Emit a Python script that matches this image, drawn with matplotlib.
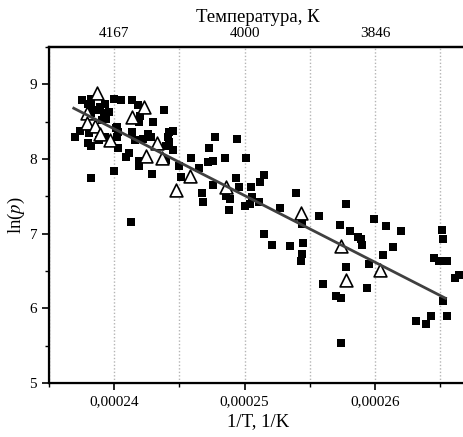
import numpy as np
import matplotlib
matplotlib.use("Agg")
import matplotlib.pyplot as plt
from matplotlib.ticker import MultipleLocator, FuncFormatter

plt.rcParams['font.family'] = ['Liberation Serif', 'DejaVu Serif']
plt.rcParams['mathtext.fontset'] = 'stix'

# measured points (black squares)
sq_x = [0.0002375, 0.0002382, 0.0002382, 0.0002393, 0.0002400, 0.0002405, 0.0002414, 0.0002418,
        0.0002438, 0.0002382, 0.0002388, 0.0002392, 0.0002396, 0.0002394, 0.0002391, 0.0002420,
        0.0002419, 0.0002430, 0.0002374, 0.0002370, 0.0002381, 0.0002380, 0.0002382, 0.0002388,
        0.0002393, 0.0002402, 0.0002403, 0.0002403, 0.0002414, 0.0002416, 0.0002422, 0.0002426,
        0.0002428, 0.0002411, 0.0002409, 0.0002419, 0.0002419, 0.0002429, 0.0002441, 0.0002442,
        0.0002445, 0.0002442, 0.0002440, 0.0002445, 0.0002440, 0.0002400, 0.0002382, 0.0002413,
        0.0002459, 0.0002450, 0.0002451, 0.0002465, 0.0002472, 0.0002476, 0.0002473, 0.0002477,
        0.0002485, 0.0002494, 0.0002501, 0.0002493, 0.0002476, 0.0002467, 0.0002468, 0.0002486,
        0.0002489, 0.0002488, 0.0002496, 0.0002500, 0.0002505, 0.0002506, 0.0002512, 0.0002515,
        0.0002511, 0.0002539, 0.0002527, 0.0002557, 0.0002578, 0.0002544, 0.0002515, 0.0002521,
        0.0002535, 0.0002545, 0.0002544, 0.0002543, 0.0002573, 0.0002581, 0.0002587, 0.0002589,
        0.0002590, 0.0002599, 0.0002608, 0.0002620, 0.0002614, 0.0002606, 0.0002595, 0.0002578,
        0.0002560, 0.0002570, 0.0002574, 0.0002594, 0.0002574, 0.0002651, 0.0002652, 0.0002645,
        0.0002649, 0.0002655, 0.0002661, 0.0002664, 0.0002652, 0.0002631, 0.0002639, 0.0002643,
        0.0002655, 0.0002504, 0.0002380, 0.0002383, 0.0002389, 0.0002401, 0.0002402]
sq_y = [8.79, 8.80, 8.72, 8.74, 8.80, 8.79, 8.79, 8.73,
        8.65, 8.61, 8.66, 8.61, 8.63, 8.54, 8.52, 8.58,
        8.50, 8.50, 8.38, 8.29, 8.35, 8.21, 8.17, 8.25,
        8.30, 8.43, 8.36, 8.15, 8.36, 8.25, 8.27, 8.34,
        8.29, 8.08, 8.03, 7.98, 7.90, 7.80, 8.29, 8.36,
        8.37, 8.23, 8.17, 8.12, 7.99, 7.84, 7.75, 7.15,
        8.01, 7.90, 7.76, 7.88, 7.96, 7.98, 8.15, 8.29,
        8.02, 8.27, 8.01, 7.75, 7.65, 7.54, 7.42, 7.51,
        7.47, 7.32, 7.62, 7.37, 7.62, 7.49, 7.69, 7.78,
        7.42, 7.55, 7.34, 7.23, 7.40, 7.13, 6.99, 6.85,
        6.84, 6.87, 6.73, 6.64, 7.11, 7.03, 6.96, 6.93,
        6.85, 7.19, 7.10, 7.04, 6.82, 6.72, 6.60, 6.56,
        6.32, 6.17, 6.14, 6.27, 5.53, 7.05, 6.93, 6.68,
        6.64, 6.63, 6.40, 6.45, 6.10, 5.83, 5.79, 5.90,
        5.90, 7.40, 8.74, 8.65, 8.70, 8.41, 8.29]

# second series (open triangles)
tri_x = [0.0002387, 0.0002423, 0.0002414, 0.0002379, 0.0002379, 0.0002385, 0.0002389, 0.0002397,
         0.0002433, 0.0002424, 0.0002437, 0.0002458, 0.0002447, 0.0002486, 0.0002543, 0.0002574,
         0.0002578, 0.0002604]
tri_y = [8.89, 8.70, 8.56, 8.61, 8.48, 8.44, 8.34, 8.26,
         8.21, 8.04, 8.02, 7.77, 7.59, 7.62, 7.28, 6.84,
         6.38, 6.51]

# linear fit
fit_x = [0.0002369, 0.0002654]
fit_y = [8.68, 6.135]

top_ticks = [0.00024, 0.00025, 0.00026]
top_labels = ['4167', '4000', '3846']

fig = plt.figure(figsize=(4.63, 4.37), dpi=100)
ax = fig.add_axes([0.1058, 0.1236, 0.9015, 0.7688])

ax.scatter(sq_x, sq_y, marker='s', s=36, c='black', linewidths=0, zorder=3)
ax.scatter(tri_x, tri_y, marker='^', s=85, facecolors='white', edgecolors='black',
           linewidths=1.2, zorder=4)
ax.plot(fit_x, fit_y, color='#404040', lw=2, zorder=5)

ax.set_xlim(0.000235, 0.000267)
ax.set_ylim(5, 9.5)
ax.xaxis.set_major_locator(MultipleLocator(0.00001))
ax.xaxis.set_minor_locator(MultipleLocator(0.000005))
ax.yaxis.set_major_locator(MultipleLocator(1))
ax.yaxis.set_minor_locator(MultipleLocator(0.5))
ax.xaxis.set_major_formatter(FuncFormatter(lambda v, p: ('%.5f' % v).replace('.', ',')))

ax.grid(True, axis='x', which='both', color='#b4b4b4', ls=(0, (1, 1.5)), lw=1.0, zorder=0)
ax.set_axisbelow(True)

for s in ['left', 'bottom', 'top']:
    ax.spines[s].set_linewidth(1.6)
ax.spines['right'].set_visible(False)
ax.tick_params(axis='both', which='major', direction='out', length=5, width=1.2, labelsize=11)
ax.tick_params(axis='both', which='minor', direction='out', length=3, width=1.0)
ax.tick_params(top=False, right=False, which='both')

ax.set_xlabel('1/T, 1/K', fontsize=13.5, labelpad=4)
ax.set_ylabel(r'ln($p$)', fontsize=13.5, labelpad=2)

ax2 = ax.twiny()
ax2.set_xlim(ax.get_xlim())
ax2.set_xticks(top_ticks)
ax2.set_xticklabels(top_labels)
ax2.tick_params(axis='x', length=0, labelsize=11, pad=5)
ax2.xaxis.set_minor_locator(plt.NullLocator())
ax2.spines['right'].set_visible(False)
ax2.spines['top'].set_linewidth(1.6)
ax2.set_xlabel('Температура, К', fontsize=13.5, labelpad=4)

fig.savefig('out.png', dpi=100)
